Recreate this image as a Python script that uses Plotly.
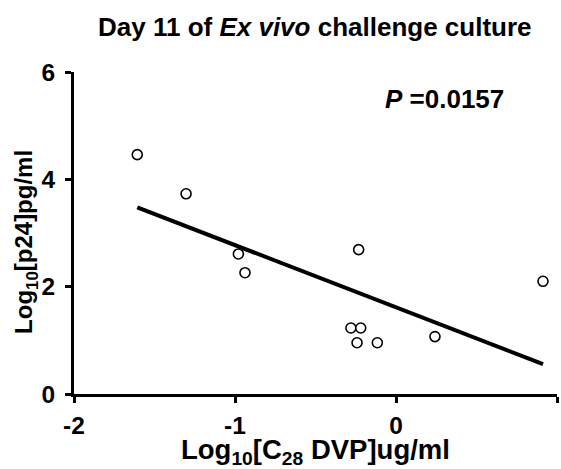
import numpy as np
import plotly.graph_objects as go

# Log10 concentration of C28 DVP (ug/ml) and log10 p24 (pg/ml), day 11
log_dvp = [-1.607, -1.304, -0.979, -0.938, -0.232, -0.280, -0.219, -0.242, -0.116, 0.242, 0.913]
log_p24 = [4.46, 3.73, 2.61, 2.26, 2.69, 1.23, 1.23, 0.955, 0.955, 1.07, 2.10]
p_value = "0.0157"

x_ticks = [-2, -1, 0, 1]
y_ticks = [0, 2, 4, 6]

FONT = "Liberation Sans, Arial, sans-serif"

# least-squares regression line over the observed x span
slope, intercept = np.polyfit(log_dvp, log_p24, 1)
fit_x = [min(log_dvp), max(log_dvp)]
fit_y = [slope * v + intercept for v in fit_x]

fig = go.Figure()
fig.add_trace(go.Scatter(
    x=fit_x, y=fit_y, mode="lines",
    line=dict(color="black", width=4),
    showlegend=False, hoverinfo="skip",
))
fig.add_trace(go.Scatter(
    x=log_dvp, y=log_p24, mode="markers",
    marker=dict(symbol="circle", size=10, color="white",
                line=dict(color="black", width=1.6)),
    showlegend=False,
))

axis_common = dict(
    showgrid=False, zeroline=False,
    showline=True, linecolor="black", linewidth=3,
    ticks="outside", ticklen=6, tickwidth=3, tickcolor="black",
    tickfont=dict(family=FONT, size=24.5, color="black", weight=700),
)

fig.update_xaxes(range=[-2, 1], tickvals=x_ticks,
                 ticktext=[f"<b>{v}</b>" for v in x_ticks],
                 ticklabelstandoff=2, **axis_common)
fig.update_yaxes(range=[0, 6], tickvals=y_ticks,
                 ticktext=[f"<b>{v}</b>" for v in y_ticks],
                 ticklabelstandoff=5, **axis_common)

fig.update_layout(
    width=561, height=469,
    margin=dict(l=74, r=4, t=72, b=75),
    paper_bgcolor="white", plot_bgcolor="white",
    font=dict(family=FONT, color="black"),
    annotations=[
        dict(text="<b>Day 11 of <i>Ex vivo</i> challenge culture</b>",
             xref="paper", yref="paper", x=0.499, y=1.14,
             xanchor="center", yanchor="middle", showarrow=False,
             font=dict(size=26, family=FONT, color="black")),
        dict(text="<b>Log<sub>10</sub>[C<sub>28</sub> DVP]ug/ml</b>",
             xref="paper", yref="paper", x=0.501, y=-0.178,
             xanchor="center", yanchor="middle", showarrow=False,
             font=dict(size=27.5, family=FONT, color="black")),
        dict(text="<b>Log<sub>10</sub>[p24]pg/ml</b>",
             xref="paper", yref="paper", x=-0.099, y=0.473, textangle=-90,
             xanchor="center", yanchor="middle", showarrow=False,
             font=dict(size=24, family=FONT, color="black")),
        dict(text="<b><i>P</i> =" + p_value + "</b>",
             xref="paper", yref="paper", x=0.768, y=0.916,
             xanchor="center", yanchor="middle", showarrow=False,
             font=dict(size=26, family=FONT, color="black")),
    ],
)

fig.write_html("out.html")
